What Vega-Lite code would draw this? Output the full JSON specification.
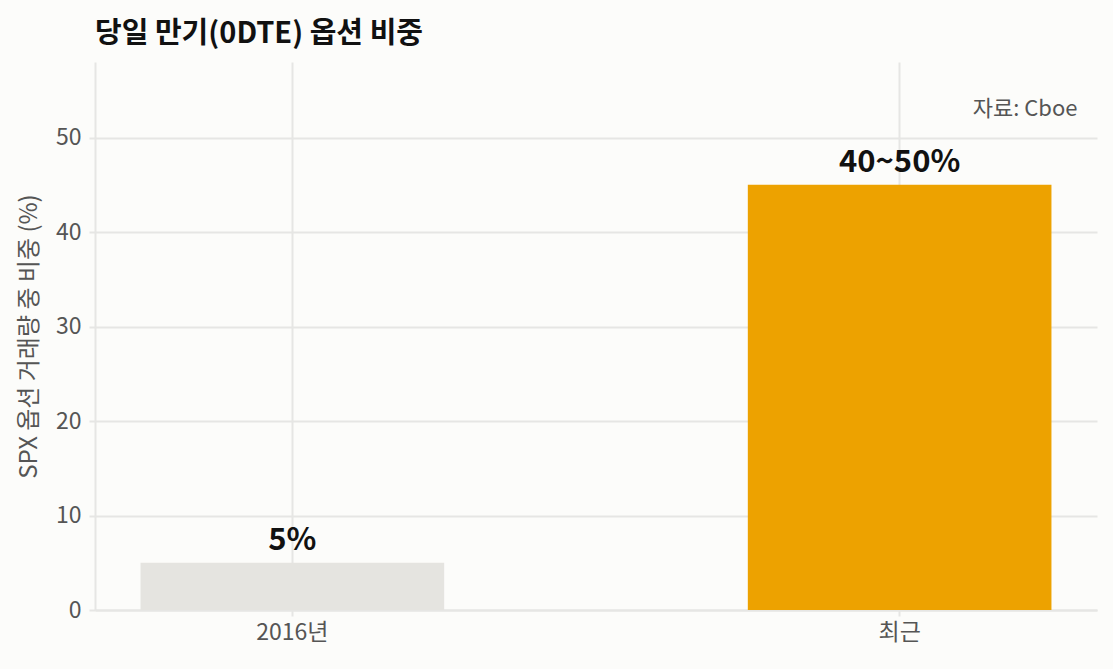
{
  "$schema": "https://vega.github.io/schema/vega-lite/v6.json",
  "description": "당일 만기(0DTE) 옵션 비중",
  "autosize": {"type": "none"},
  "width": 1002,
  "height": 548,
  "padding": {"left": 95, "top": 62, "right": 16, "bottom": 59},
  "background": "#FCFCFA",
  "title": {
    "text": "당일 만기(0DTE) 옵션 비중",
    "anchor": "start",
    "frame": "group",
    "font": "Noto Sans CJK KR",
    "fontSize": 29,
    "fontWeight": "bold",
    "color": "#111111",
    "offset": 13
  },
  "config": {
    "view": {"stroke": null},
    "font": "Noto Sans CJK KR",
    "axis": {
      "gridColor": "#E6E6E4",
      "gridWidth": 2,
      "domainColor": "#E6E6E4",
      "domainWidth": 2,
      "tickColor": "#E6E6E4",
      "tickWidth": 2,
      "tickSize": 6,
      "labelFont": "Noto Sans CJK KR",
      "labelFontSize": 23,
      "labelColor": "#555555",
      "titleFont": "Noto Sans CJK KR",
      "titleFontSize": 24,
      "titleFontWeight": "normal",
      "titleColor": "#555555"
    }
  },
  "data": {
    "values": [
      {"period": "2016년", "share": 5, "label": "5%"},
      {"period": "최근", "share": 45, "label": "40~50%"}
    ]
  },
  "layer": [
    {
      "mark": {"type": "bar"},
      "encoding": {
        "x": {
          "field": "period",
          "type": "nominal",
          "sort": ["2016년", "최근"],
          "scale": {"paddingInner": 0.5, "paddingOuter": 0.075},
          "axis": {"title": null, "labelAngle": 0, "grid": true, "bandPosition": 0.5, "labelPadding": 5}
        },
        "y": {
          "field": "share",
          "type": "quantitative",
          "scale": {"domain": [0, 58], "nice": false},
          "axis": {"title": "SPX 옵션 거래량 중 비중 (%)", "values": [0, 10, 20, 30, 40, 50], "labelPadding": 8, "titlePadding": 14}
        },
        "color": {
          "field": "period",
          "type": "nominal",
          "scale": {"domain": ["2016년", "최근"], "range": ["#E5E4E0", "#EDA200"]},
          "legend": null
        }
      }
    },
    {
      "mark": {"type": "text", "baseline": "alphabetic", "dy": -13, "fontSize": 31, "fontWeight": "bold", "color": "#111111"},
      "encoding": {
        "x": {"field": "period", "type": "nominal", "sort": ["2016년", "최근"]},
        "y": {"field": "share", "type": "quantitative"},
        "text": {"field": "label"}
      }
    },
    {
      "data": {"values": [{"note": "자료: Cboe", "period": "최근", "pos": 53}]},
      "mark": {"type": "text", "align": "right", "baseline": "middle", "fontSize": 22, "color": "#555555", "dx": 26},
      "encoding": {
        "x": {"field": "period", "type": "nominal", "bandPosition": 1},
        "y": {"field": "pos", "type": "quantitative"},
        "text": {"field": "note"}
      }
    }
  ]
}
